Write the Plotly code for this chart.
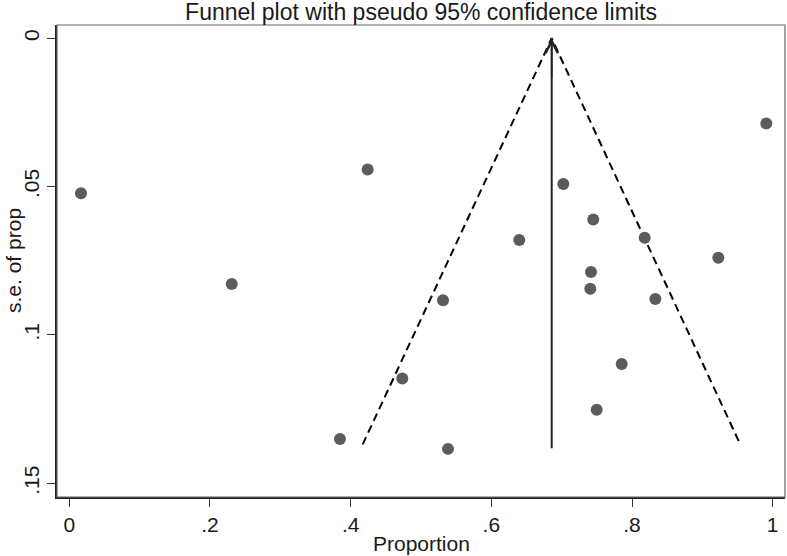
import plotly.graph_objects as go

# Study data (proportion, standard error)
proportion = [0.0166, 0.2309, 0.4242, 0.6397, 0.5313, 0.7023, 0.7449, 0.8180, 0.9227,
              0.7417, 0.7407, 0.8331, 0.4734, 0.3848, 0.5384, 0.7853, 0.7498, 0.9909]
se_prop = [0.0522, 0.0828, 0.0442, 0.0680, 0.0883, 0.0491, 0.0611, 0.0672, 0.0740,
           0.0788, 0.0844, 0.0879, 0.1147, 0.1351, 0.1384, 0.1098, 0.1252, 0.0287]

# Pooled estimate and pseudo 95% limits
pooled = 0.6858
pooled_line_se = [0.1382, 0.0]
funnel_x = [0.4171, 0.6858, 0.9539]
funnel_y = [0.1369, 0.0, 0.1369]

x_ticks = [0, 0.2, 0.4, 0.6, 0.8, 1]
x_tick_labels = ["0", ".2", ".4", ".6", ".8", "1"]
y_ticks = [0, 0.05, 0.1, 0.15]
y_tick_labels = ["0", ".05", ".1", ".15"]

FONT = "Liberation Sans, Arial, sans-serif"
TXT = "#1a1a1a"

fig = go.Figure()

fig.add_trace(go.Scatter(
    x=funnel_x, y=funnel_y, mode="lines",
    line=dict(color="black", width=2, dash="8px,5px"),
    hoverinfo="skip", showlegend=False))

fig.add_trace(go.Scatter(
    x=[pooled, pooled], y=pooled_line_se, mode="lines",
    line=dict(color="#222222", width=2),
    hoverinfo="skip", showlegend=False))

fig.add_annotation(
    x=pooled, y=0, ax=pooled, ay=pooled_line_se[0] * 0.1,
    xref="x", yref="y", axref="x", ayref="y",
    showarrow=True, arrowhead=5, arrowsize=1.5, arrowwidth=1.6,
    arrowcolor="#222222", text="")

fig.add_trace(go.Scatter(
    x=proportion, y=se_prop, mode="markers",
    marker=dict(color="#5c5c5c", size=12, line=dict(width=0)),
    showlegend=False))

fig.update_layout(
    width=787, height=556,
    margin=dict(l=57, r=2, t=25, b=59),
    paper_bgcolor="white", plot_bgcolor="white",
    font=dict(family=FONT, size=21, color=TXT),
    title=dict(text="Funnel plot with pseudo 95% confidence limits",
               x=(57 + 785) / 2 / 787, xanchor="center",
               yref="container", y=1 - 11.5 / 556, yanchor="middle",
               font=dict(family=FONT, size=23, color=TXT)),
    showlegend=False,
)

fig.update_xaxes(
    range=[-0.0175, 1.0175], tickvals=x_ticks, ticktext=x_tick_labels,
    ticks="outside", ticklen=8, tickwidth=1.2, tickcolor="#333333",
    showline=True, linecolor="#222222", linewidth=2, showgrid=False, zeroline=False,
    automargin=False, tickfont=dict(size=21))

fig.update_yaxes(
    range=[0.15462, -0.00448], tickvals=y_ticks, ticktext=y_tick_labels,
    ticks="outside", ticklen=8, tickwidth=1.2, tickcolor="#333333", tickangle=-90,
    showline=True, linecolor="#222222", linewidth=2, showgrid=False, zeroline=False,
    automargin=False, tickfont=dict(size=21))

# axis titles
fig.add_annotation(text="Proportion", xref="paper", yref="paper", x=0.5, y=0,
                   yshift=-46, xanchor="center", yanchor="middle", showarrow=False,
                   font=dict(size=21, color=TXT))
fig.add_annotation(text="s.e. of prop", xref="paper", yref="paper", x=0, y=0.5,
                   xshift=-44, xanchor="center", yanchor="middle", textangle=-90,
                   showarrow=False, font=dict(size=21, color=TXT))

# plot region outline (top/right)
fig.add_shape(type="rect", xref="paper", yref="paper", x0=0, y0=0, x1=1, y1=1,
              line=dict(color="#666666", width=1.2), layer="above")

fig.write_html(
    "out.html",
    config={"displayModeBar": False},
    post_script="document.body.style.margin='0';document.body.style.overflow='hidden';")
